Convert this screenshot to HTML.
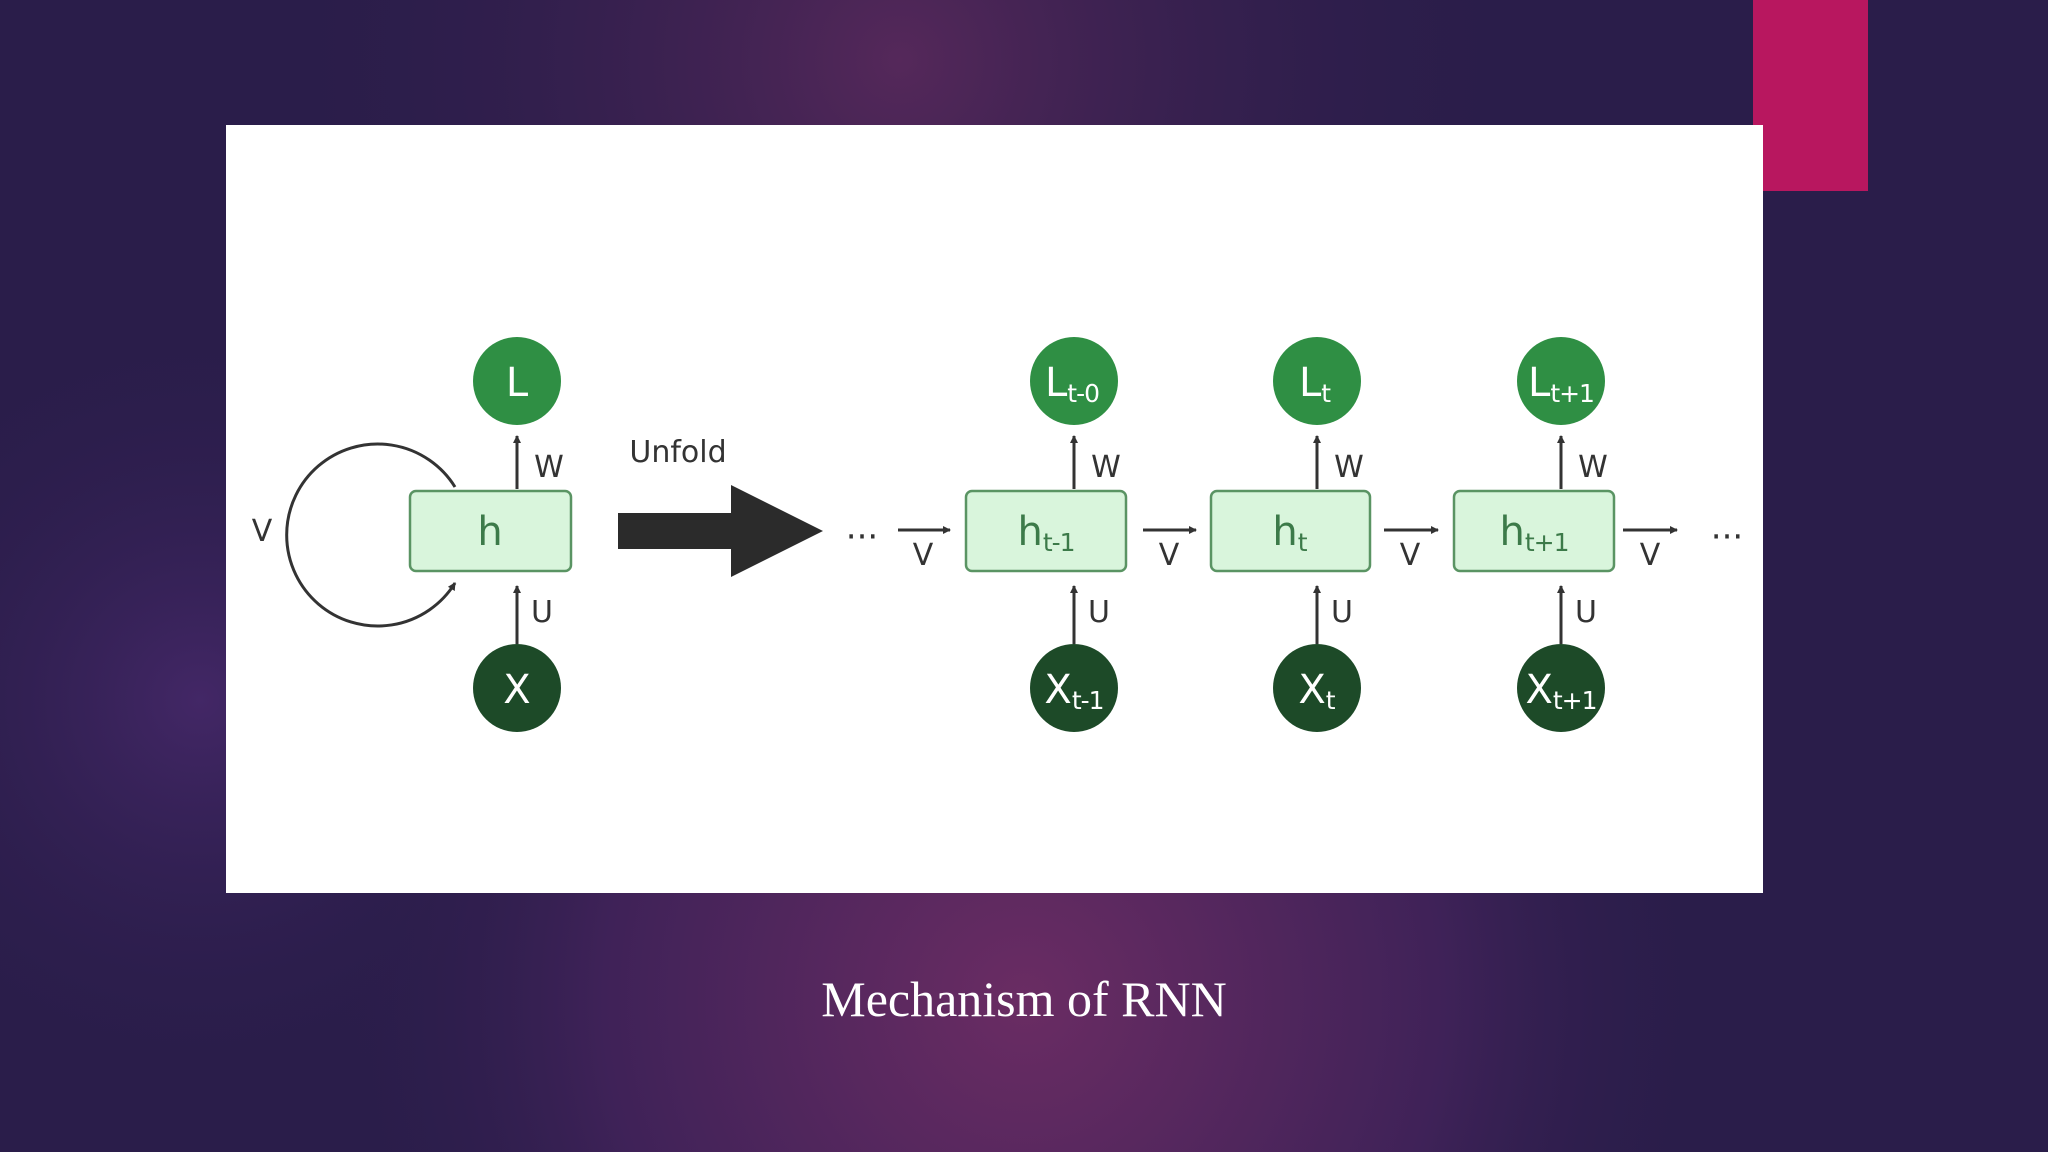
<!DOCTYPE html>
<html><head><meta charset="utf-8"><style>
html,body{margin:0;padding:0;width:2048px;height:1152px;overflow:hidden;background:#2a1d4a}
</style></head><body>
<svg width="2048" height="1152" viewBox="0 0 2048 1152" xmlns="http://www.w3.org/2000/svg" font-family="'DejaVu Sans','Liberation Sans',sans-serif">
<defs>
<radialGradient id="g1" cx="1024" cy="1000" r="700" gradientUnits="userSpaceOnUse">
<stop offset="0" stop-color="#6a2c63"/><stop offset="0.6" stop-color="#3f2258"/><stop offset="1" stop-color="#2a1d4a" stop-opacity="0"/></radialGradient>
<radialGradient id="g2" cx="900" cy="60" r="650" gradientUnits="userSpaceOnUse">
<stop offset="0" stop-color="#55285a"/><stop offset="1" stop-color="#2a1d4a" stop-opacity="0"/></radialGradient>
<radialGradient id="g3" cx="200" cy="700" r="400" gradientUnits="userSpaceOnUse">
<stop offset="0" stop-color="#432766"/><stop offset="1" stop-color="#2a1d4a" stop-opacity="0"/></radialGradient>
<marker id="ah" markerWidth="8" markerHeight="8" refX="7" refY="4" orient="auto" markerUnits="userSpaceOnUse">
<path d="M0,0 L8,4 L0,8 z" fill="#333"/></marker>
</defs>
<rect width="2048" height="1152" fill="#2a1d4a"/>
<rect width="2048" height="1152" fill="url(#g3)"/>
<rect width="2048" height="1152" fill="url(#g2)"/>
<rect width="2048" height="1152" fill="url(#g1)"/>
<rect x="1753" y="0" width="115" height="191" fill="#b8175f"/>
<rect x="226" y="125" width="1537" height="768" fill="#ffffff"/>

<g stroke="#333" stroke-width="3" fill="none">
<path d="M455,487 A91,91 0 1 0 455,583" marker-end="url(#ah)"/>
<line x1="517" y1="489" x2="517" y2="436" marker-end="url(#ah)"/>
<line x1="517" y1="644" x2="517" y2="586" marker-end="url(#ah)"/>
<line x1="1074" y1="489" x2="1074" y2="436" marker-end="url(#ah)"/>
<line x1="1074" y1="644" x2="1074" y2="586" marker-end="url(#ah)"/>
<line x1="1317" y1="489" x2="1317" y2="436" marker-end="url(#ah)"/>
<line x1="1317" y1="644" x2="1317" y2="586" marker-end="url(#ah)"/>
<line x1="1561" y1="489" x2="1561" y2="436" marker-end="url(#ah)"/>
<line x1="1561" y1="644" x2="1561" y2="586" marker-end="url(#ah)"/>
<line x1="898" y1="530" x2="950" y2="530" marker-end="url(#ah)"/>
<line x1="1143" y1="530" x2="1196" y2="530" marker-end="url(#ah)"/>
<line x1="1384" y1="530" x2="1438" y2="530" marker-end="url(#ah)"/>
<line x1="1623" y1="530" x2="1677" y2="530" marker-end="url(#ah)"/>
</g>
<path d="M618,513 L731,513 L731,485 L823,531 L731,577 L731,549 L618,549 z" fill="#2b2b2b"/>

<g fill="#d9f5dc" stroke="#5a9463" stroke-width="2.5">
<rect x="410" y="491" width="161" height="80" rx="6"/>
<rect x="966" y="491" width="160" height="80" rx="6"/>
<rect x="1211" y="491" width="159" height="80" rx="6"/>
<rect x="1454" y="491" width="160" height="80" rx="6"/>
</g>
<g fill="#2f8f44">
<circle cx="517" cy="381" r="44"/><circle cx="1074" cy="381" r="44"/><circle cx="1317" cy="381" r="44"/><circle cx="1561" cy="381" r="44"/>
</g>
<g fill="#1d4a28">
<circle cx="517" cy="688" r="44"/><circle cx="1074" cy="688" r="44"/><circle cx="1317" cy="688" r="44"/><circle cx="1561" cy="688" r="44"/>
</g>

<g fill="#ffffff" font-size="40" text-anchor="middle">
<text x="517" y="396">L</text>
<text x="1072" y="396">L<tspan font-size="25" dy="6" letter-spacing="-1">t-0</tspan></text>
<text x="1315" y="396">L<tspan font-size="25" dy="6">t</tspan></text>
<text x="1561" y="396">L<tspan font-size="25" dy="6" letter-spacing="-1">t+1</tspan></text>
<text x="517" y="703">X</text>
<text x="1074" y="703">X<tspan font-size="25" dy="6" letter-spacing="-1">t-1</tspan></text>
<text x="1317" y="703">X<tspan font-size="25" dy="6">t</tspan></text>
<text x="1561" y="703">X<tspan font-size="25" dy="6" letter-spacing="-1">t+1</tspan></text>
</g>
<g fill="#3c7a49" font-size="40" text-anchor="middle">
<text x="490" y="545">h</text>
<text x="1046" y="545">h<tspan font-size="25" dy="6" letter-spacing="-1">t-1</tspan></text>
<text x="1290" y="545">h<tspan font-size="25" dy="6">t</tspan></text>
<text x="1534" y="545">h<tspan font-size="25" dy="6" letter-spacing="-1">t+1</tspan></text>
</g>
<g fill="#333" font-size="30" text-anchor="middle">
<text x="549" y="477">W</text><text x="542" y="622">U</text>
<text x="1106" y="477">W</text><text x="1099" y="622">U</text>
<text x="1349" y="477">W</text><text x="1342" y="622">U</text>
<text x="1593" y="477">W</text><text x="1586" y="622">U</text>
<text x="262" y="541">V</text>
<text x="923" y="565">V</text><text x="1169" y="565">V</text><text x="1410" y="565">V</text><text x="1650" y="565">V</text>
<text x="678" y="462">Unfold</text>
<text x="862" y="548" font-size="34">···</text>
<text x="1727" y="548" font-size="34">···</text>
</g>
<text x="1024" y="1016" fill="#ffffff" font-family="'Liberation Serif',serif" font-size="50" text-anchor="middle">Mechanism of RNN</text>
</svg>
</body></html>
